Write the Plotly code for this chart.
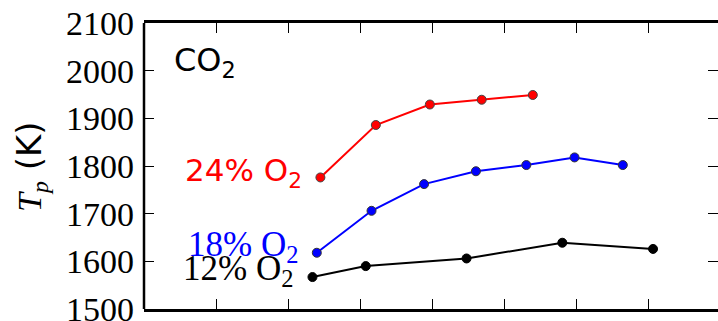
import plotly.graph_objects as go

# Peak particle temperature in a CO2 atmosphere at three oxygen levels
x_24 = [2.45, 3.22, 3.97, 4.69, 5.40]
tp_24 = [1776, 1886, 1929, 1939, 1949]

x_18 = [2.40, 3.16, 3.89, 4.61, 5.31, 5.98, 6.65]
tp_18 = [1618, 1706, 1762, 1789, 1802, 1818, 1802]

x_12 = [2.34, 3.08, 4.48, 5.81, 7.07]
tp_12 = [1567, 1590, 1606, 1639, 1626]

y_ticks = [1500, 1600, 1700, 1800, 1900, 2000, 2100]
x_ticks = [0, 1, 2, 3, 4, 5, 6, 7]

SERIF = "Liberation Serif, serif"
SANS = "DejaVu Sans, sans-serif"

W, H = 718, 321
ML, MR, MT, MB = 144, 0, 23, 12
PX_PER_UNIT = 72.0
x_max = (W - ML - MR) / PX_PER_UNIT

series = [
    (x_24, tp_24, "#ff0000", "#444444", "24% O<sub>2</sub>", SANS, 31, -16, 5),
    (x_18, tp_18, "#0000ff", "#333333", "18% O<sub>2</sub>", SERIF, 35, -17, 6),
    (x_12, tp_12, "#000000", "#000000", "12% O<sub>2</sub>", SERIF, 35, -17, 7),
]

fig = go.Figure()
annotations = []
for xs, ys, color, edge, label, fam, fsize, dx, dy in series:
    fig.add_trace(go.Scatter(
        x=xs, y=ys, mode="lines+markers",
        line=dict(color=color, width=2),
        marker=dict(color=color, size=9, line=dict(color=edge, width=1)),
        showlegend=False, cliponaxis=False,
    ))
    annotations.append(dict(
        x=xs[0], y=ys[0], xref="x", yref="y",
        text=label, showarrow=False,
        xanchor="right", yanchor="middle", xshift=dx, yshift=dy,
        font=dict(family=fam, size=fsize, color=color),
    ))

plot_w = W - ML - MR
plot_h = H - MT - MB

# atmosphere label
annotations.append(dict(
    x=(172 - ML) / plot_w, y=(H - MB - 62) / plot_h, xref="paper", yref="paper",
    text="CO<sub>2</sub>", showarrow=False, xanchor="left", yanchor="middle",
    font=dict(family=SANS, size=32, color="black"),
))

# y-axis title: italic serif T_p followed by sans-serif unit
annotations.append(dict(
    x=(31 - ML) / plot_w, y=(H - MB - 167) / plot_h, xref="paper", yref="paper",
    text=("<span style='font-family:Liberation Serif'><i>T</i><sub><i>p</i></sub></span>"
          " (K)"),
    showarrow=False, textangle=-90, xanchor="center", yanchor="middle",
    font=dict(family=SANS, size=34, color="black"),
))

fig.update_layout(
    width=W, height=H,
    margin=dict(l=ML, r=MR, t=MT, b=MB, pad=0, autoexpand=False),
    paper_bgcolor="white", plot_bgcolor="white",
    font=dict(family=SERIF, color="black"),
    annotations=annotations,
    shapes=[dict(type="line", xref="paper", yref="paper", x0=0, x1=0, y0=0, y1=1,
                 line=dict(color="black", width=2.5))],
    xaxis=dict(
        range=[0, x_max], tickmode="array", tickvals=x_ticks,
        showticklabels=False, ticks="inside", ticklen=10, tickwidth=1.2,
        tickcolor="black", showline=True, linecolor="black", linewidth=2.5,
        mirror="ticks", showgrid=False, zeroline=False, automargin=False,
    ),
    yaxis=dict(
        range=[1500, 2100], tickmode="array", tickvals=y_ticks,
        ticktext=[str(v) for v in y_ticks],
        ticks="inside", ticklen=10, tickwidth=1.2, tickcolor="black",
        showline=False, mirror="ticks", showgrid=False, zeroline=False,
        ticklabelstandoff=9, ticklabeloverflow="allow", automargin=False,
        tickfont=dict(family=SERIF, size=34, color="black"),
    ),
)

fig.write_html("out.html")
